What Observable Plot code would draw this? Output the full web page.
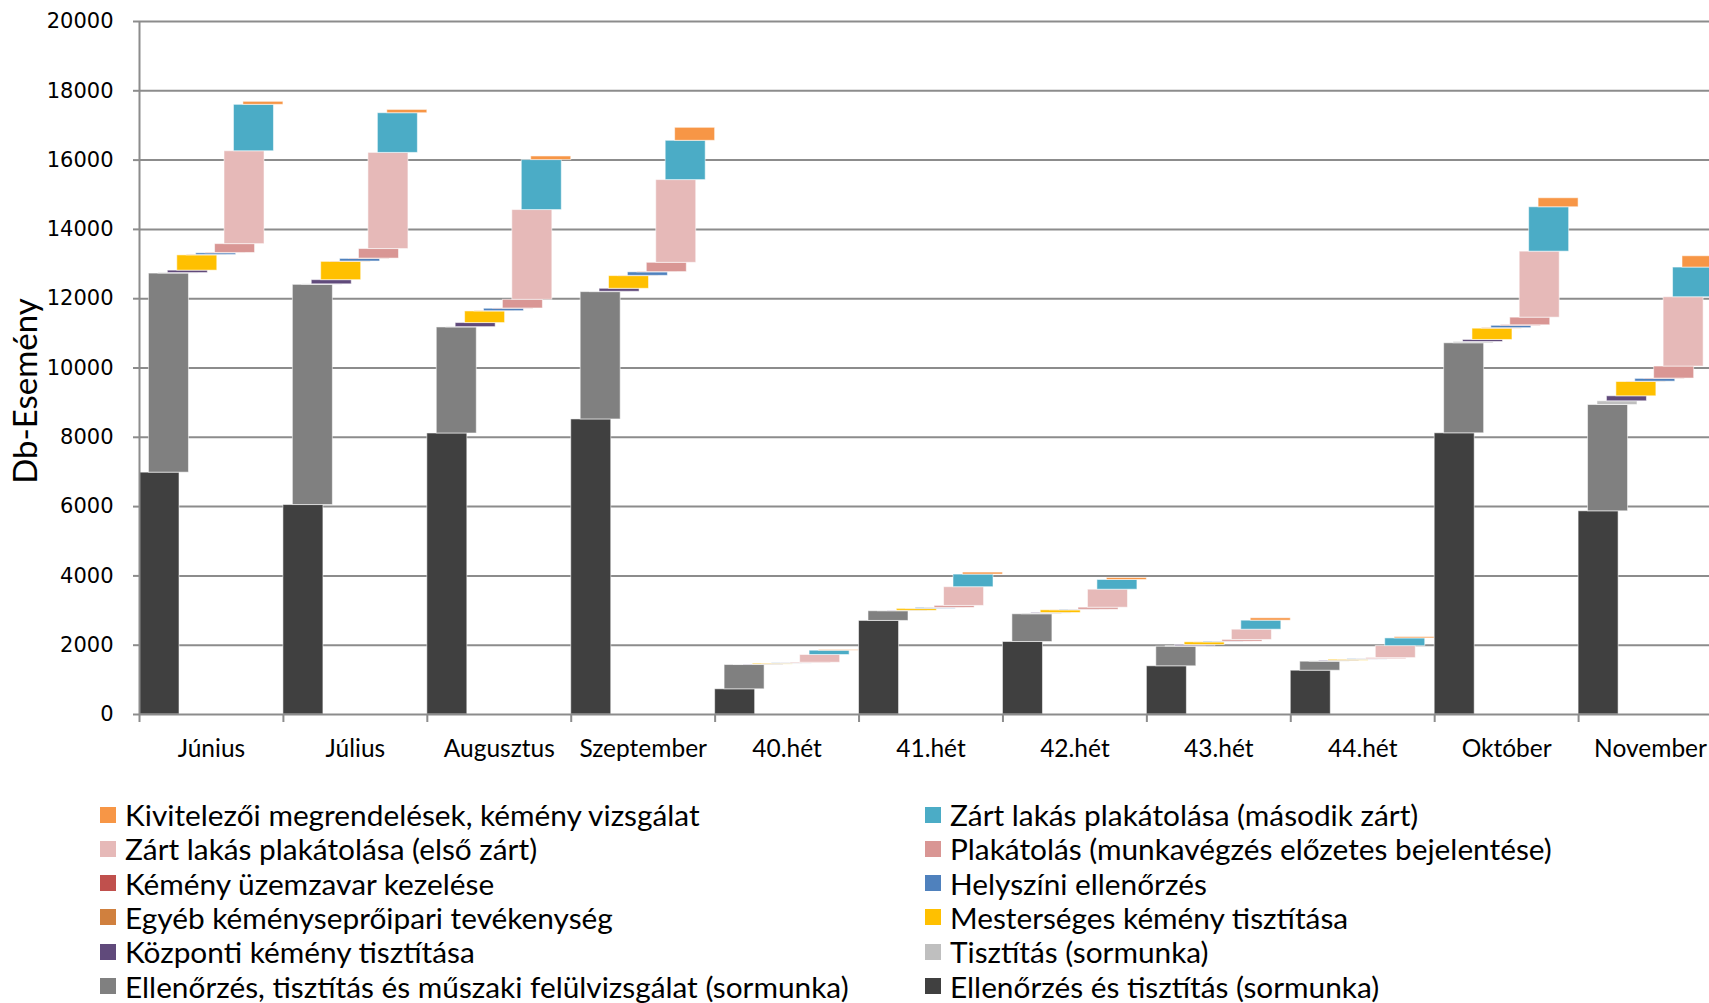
<!DOCTYPE html>
<html><head><meta charset="utf-8">
<script src="https://cdn.jsdelivr.net/npm/d3@7"></script>
<script src="https://cdn.jsdelivr.net/npm/@observablehq/plot@0.6"></script>
<style>
html,body{margin:0;padding:0;background:#fff;overflow:hidden;width:1709px;height:1003px}
#chart svg{overflow:hidden;display:block}
#legend{position:relative;width:1709px;height:208px;font-family:Lato,sans-serif;font-size:29.8px;color:#000}
.item{position:absolute;display:flex;align-items:center;height:34px;white-space:nowrap}
.sw{width:16px;height:16px;margin-right:9px;flex:none}
</style></head><body>
<div id="chart"></div>
<div id="legend"></div>
<script>
const categories = ["Június","Július","Augusztus","Szeptember","40.hét","41.hét","42.hét","43.hét","44.hét","Október","November"];

// series, bottom to top
const seriesNames = [
  "Ellenőrzés és tisztítás (sormunka)",
  "Ellenőrzés, tisztítás és műszaki felülvizsgálat (sormunka)",
  "Tisztítás (sormunka)",
  "Központi kémény tisztítása",
  "Mesterséges kémény tisztítása",
  "Egyéb kéményseprőipari tevékenység",
  "Helyszíni ellenőrzés",
  "Kémény üzemzavar kezelése",
  "Plakátolás (munkavégzés előzetes bejelentése)",
  "Zárt lakás plakátolása (első zárt)",
  "Zárt lakás plakátolása (második zárt)",
  "Kivitelezői megrendelések, kémény vizsgálat"
];
const seriesColors = ["#404040","#808080","#bfbfbf","#604a7b","#ffc000","#d0803e","#4f81bd","#c0504d","#d99694","#e6b9b8","#4bacc6","#f79646"];

const ellenorzesTisztitas = [6980, 6045, 8110, 8515, 727, 2700, 2092, 1391, 1264, 8115, 5864];
const ellenorzesMuszaki   = [5745, 6355, 3060, 3675, 701, 280, 800, 566, 260, 2598, 3068];
const tisztitasSormunka   = [15, 15, 10, 10, 5, 5, 22, 15, 12, 38, 107];
const kozpontiKemeny      = [70, 120, 117, 86, 8, 8, 15, 33, 15, 58, 144];
const mestersegesKemeny   = [440, 528, 335, 366, 25, 55, 78, 78, 30, 326, 413];
const egyebTevekenyseg    = [10, 10, 8, 8, 3, 3, 3, 3, 3, 15, 10];
const helyszini           = [50, 75, 70, 100, 8, 25, 12, 15, 12, 67, 80];
const uzemzavar           = [10, 10, 8, 8, 2, 3, 2, 2, 2, 16, 10];
const plakatolas          = [255, 275, 250, 268, 16, 55, 58, 48, 30, 220, 346];
const zartElso            = [2680, 2775, 2590, 2387, 222, 540, 520, 297, 346, 1905, 2000];
const zartMasodik         = [1340, 1145, 1443, 1134, 124, 364, 280, 260, 222, 1281, 857];
const kivitelezoi         = [87, 95, 104, 375, 20, 58, 58, 69, 38, 260, 326];

const seriesValues = [ellenorzesTisztitas, ellenorzesMuszaki, tisztitasSormunka, kozpontiKemeny,
  mestersegesKemeny, egyebTevekenyseg, helyszini, uzemzavar, plakatolas, zartElso, zartMasodik, kivitelezoi];

const yTicks = d3.range(0, 20001, 2000);

// floating staircase bars: each series shifted within its category band
const barW = 0.278;
const step = (1 - barW) / (seriesValues.length - 1);
const rows = [];
categories.forEach((c, i) => {
  let cum = 0;
  seriesValues.forEach((vals, j) => {
    const v = vals[i];
    rows.push({cat: c, series: seriesNames[j], color: seriesColors[j],
      x1: i + j * step, x2: i + j * step + barW, y1: cum, y2: cum + v});
    cum += v;
  });
});

const gridColor = "#8c8c8c";
const chart = Plot.plot({
  width: 1709, height: 795,
  marginLeft: 139, marginRight: -13, marginTop: 21, marginBottom: 81,
  x: {domain: [0, categories.length], axis: null},
  y: {domain: [0, 20000], axis: null},
  style: {fontFamily: "Lato, sans-serif", background: "white", overflow: "hidden"},
  marks: [
    Plot.gridY(yTicks.slice(1), {stroke: gridColor, strokeOpacity: 1, strokeWidth: 2}),
    Plot.rect(rows, {x1: "x1", x2: "x2", y1: "y1", y2: "y2", fill: "color",
      stroke: "white", strokeOpacity: 0.55, strokeWidth: 1}),
    Plot.ruleY([0], {stroke: gridColor, strokeWidth: 2}),
    Plot.ruleX([0], {stroke: gridColor, strokeWidth: 2}),
    Plot.axisY({ticks: yTicks, tickSize: 6, tickPadding: 20, stroke: gridColor, strokeWidth: 2,
      fill: "#000", fontSize: 21, fontFamily: "DejaVu Sans", tickFormat: d => String(d)}),
    Plot.axisX({ticks: d3.range(0, categories.length + 1), tickSize: 8, stroke: gridColor, strokeWidth: 2,
      tickFormat: () => ""}),
    Plot.axisX({ticks: categories.map((c, i) => i + 0.5), tickSize: 0, tickPadding: 25,
      fill: "#000", fontSize: 24.5, tickFormat: v => categories[Math.floor(v)]}),
    Plot.text(["Db-Esemény"], {text: d => d, frameAnchor: "left", textAnchor: "middle", rotate: -90,
      dx: -113, dy: 23, fontSize: 33, fill: "#000"})
  ]
});
document.getElementById("chart").appendChild(chart);

// legend: two columns, reverse series order, row-major
const legend = document.getElementById("legend");
const order = d3.range(seriesNames.length - 1, -1, -1);
order.forEach((j, k) => {
  const row = Math.floor(k / 2), col = k % 2;
  const item = document.createElement("div");
  item.className = "item";
  item.style.left = (col === 0 ? 100 : 925) + "px";
  item.style.top = (2.5 + row * 34.3) + "px";
  const sw = document.createElement("span");
  sw.className = "sw";
  sw.style.background = seriesColors[j];
  const tx = document.createElement("span");
  tx.textContent = seriesNames[j];
  item.appendChild(sw); item.appendChild(tx);
  legend.appendChild(item);
});
</script>
</body></html>
